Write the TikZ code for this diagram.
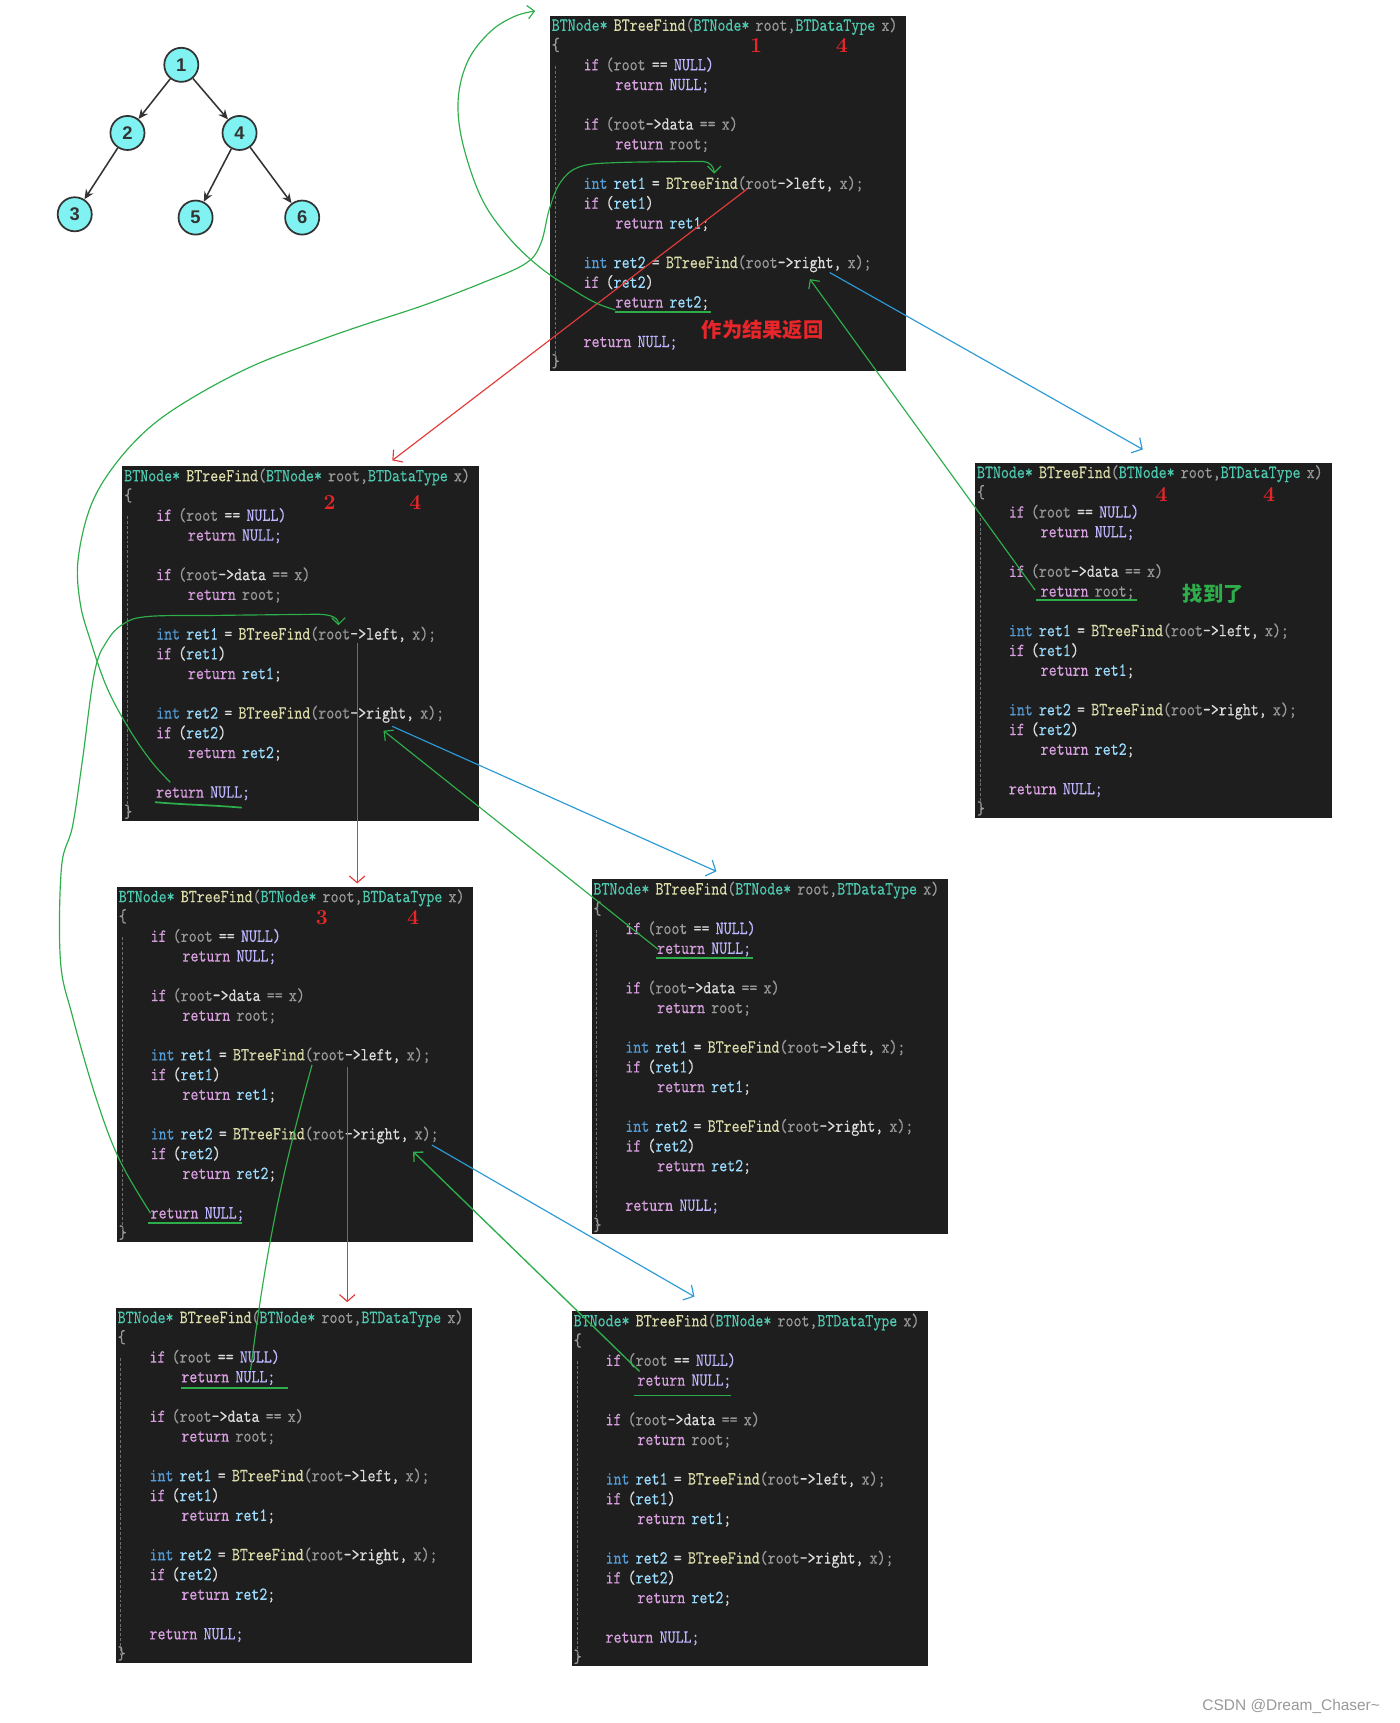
\documentclass[tikz,border=0pt]{standalone}
\usepackage{fontspec}
\setsansfont{Liberation Sans}
\newfontfamily\cjk{Noto Sans CJK SC}
\newfontfamily\codefam{lmmono10-regular.otf}[FakeStretch=0.82, FakeBold=0.2]
\usepackage{xcolor}
\usetikzlibrary{arrows.meta, calc, positioning}

\definecolor{codebg}{HTML}{1E1E1E}
\definecolor{typecol}{HTML}{4EC9B0}
\definecolor{funccol}{HTML}{DCDCAA}
\definecolor{paramcol}{HTML}{9A9A9A}
\definecolor{keycol}{HTML}{D8A0DF}
\definecolor{macrocol}{HTML}{BEB7FF}
\definecolor{intcol}{HTML}{569CD6}
\definecolor{varcol}{HTML}{9CDCFE}
\definecolor{plaincol}{HTML}{DCDCDC}
\definecolor{guidecol}{HTML}{6E6E6E}
\definecolor{numred}{HTML}{E8262A}
\definecolor{callred}{HTML}{E33B3B}
\definecolor{callblue}{HTML}{2C9AD6}
\definecolor{backgreen}{HTML}{2DAE4A}
\definecolor{treefill}{HTML}{80F2F2}
\definecolor{treeedge}{HTML}{333333}

\newcommand\ckw[1]{\textcolor{keycol}{#1}}
\newcommand\cty[1]{\textcolor{typecol}{#1}}
\newcommand\cfn[1]{\textcolor{funccol}{#1}}
\newcommand\cpa[1]{\textcolor{paramcol}{#1}}
\newcommand\cmc[1]{\textcolor{macrocol}{#1}}
\newcommand\cik[1]{\textcolor{intcol}{#1}}
\newcommand\cvr[1]{\textcolor{varcol}{#1}}
\newcommand\inda{\hspace*{16.5pt}}
\newcommand\indb{\hspace*{33pt}}

\newcommand\btcode{%
\cty{BTNode*} \cfn{BTreeFind}\cpa{(}\cty{BTNode*} \cpa{root,}\cty{BTDataType} \cpa{x)}\\
\cpa{\{}\\
\inda\ckw{if} \cpa{(root} == \cmc{NULL)}\\
\indb\ckw{return} \cmc{NULL;}\\
\mbox{}\\
\inda\ckw{if} \cpa{(root}->data \cpa{== x)}\\
\indb\ckw{return} \cpa{root;}\\
\mbox{}\\
\inda\cik{int} \cvr{ret1} = \cfn{BTreeFind}\cpa{(root}->left, \cpa{x);}\\
\inda\ckw{if} (\cvr{ret1})\\
\indb\ckw{return} \cvr{ret1};\\
\mbox{}\\
\inda\cik{int} \cvr{ret2} = \cfn{BTreeFind}\cpa{(root}->right, \cpa{x);}\\
\inda\ckw{if} (\cvr{ret2})\\
\indb\ckw{return} \cvr{ret2};\\
\mbox{}\\
\inda\ckw{return} \cmc{NULL;}\\
\cpa{\}}}

\begin{document}
\begin{tikzpicture}[
  x=0.02cm, y=-0.02cm,
  codeblk/.style = {anchor=north west, fill=codebg, inner xsep=1pt, inner ysep=0.5pt,
                    text width=6.42cm, minimum width=6.46cm, minimum height=6.46cm,
                    align=left, text=plaincol,
                    font=\codefam\fontsize{9.6}{10.24}\selectfont},
  guide/.style   = {draw=guidecol, line width=0.4pt, dash pattern=on 1.5pt off 1pt},
  tnode/.style   = {circle, draw=treeedge, line width=0.9pt, fill=treefill,
                    minimum size=0.62cm, inner sep=0pt,
                    font=\sffamily\bfseries\fontsize{9.5}{10}\selectfont, text=treeedge},
  tedge/.style   = {-{Stealth[length=5pt,width=4.5pt]}, line width=0.8pt, draw=treeedge},
  argnum/.style  = {text=numred, font=\rmfamily\bfseries\fontsize{11}{12}\selectfont},
  call/.style    = {draw=callred, line width=0.6pt, -{Straight Barb[length=3.5pt,width=8pt]}},
  jump/.style    = {draw=callblue, line width=0.6pt, -{Straight Barb[length=4pt,width=9pt]}},
  back/.style    = {draw=backgreen, line width=0.6pt, -{Straight Barb[length=3.5pt,width=7pt]}},
  underl/.style  = {draw=backgreen, line width=0.9pt}
]

\fill[white] (0,0) rectangle (1274,1568);
\useasboundingbox (0,0) rectangle (1274,1568);

\node[tnode] (n1) at (165,59) {1};
\node[tnode] (n2) at (116,121) {2};
\node[tnode] (n4) at (218,121) {4};
\node[tnode] (n3) at (68,195) {3};
\node[tnode] (n5) at (178,198) {5};
\node[tnode] (n6) at (275,198) {6};
\draw[tedge] (n1) -- (n2);
\draw[tedge] (n1) -- (n4);
\draw[tedge] (n2) -- (n3);
\draw[tedge] (n4) -- (n5);
\draw[tedge] (n4) -- (n6);

\foreach \nm/\px/\py in {b1/500/14, b2/111/424, b3/887/421, b4/106/807,
                         b5/538/800, b6/105/1190, b7/520/1193} {
  \node[codeblk] (\nm) at (\px,\py) {\btcode};
  \draw[guide] ($(\nm.north west)+(5,46)$) -- ($(\nm.north west)+(5,316)$);
}

\node[argnum] (b1a) at ($(b1.north west)+(188,27)$) {1};
\node[argnum] (b1x) at ($(b1.north west)+(266,27)$) {4};
\node[argnum] (b2a) at ($(b2.north west)+(189,33)$) {2};
\node[argnum] (b2x) at ($(b2.north west)+(267,33)$) {4};
\node[argnum] (b3a) at ($(b3.north west)+(170,29)$) {4};
\node[argnum] (b3x) at ($(b3.north west)+(268,29)$) {4};
\node[argnum] (b4a) at ($(b4.north west)+(187,28)$) {3};
\node[argnum] (b4x) at ($(b4.north west)+(270,28)$) {4};

\node[text=numred, font=\cjk\bfseries\fontsize{10.5}{12}\selectfont] (b1note)
  at ($(b1.north west)+(194,286)$) {作为结果返回};
\node[text=backgreen, font=\cjk\bfseries\fontsize{10.5}{12}\selectfont] (b3note)
  at ($(b3.north west)+(217,119)$) {找到了};

\node[anchor=east, text=black!40, font=\sffamily\fontsize{8}{9}\selectfont] (wm)
  at (1262,1553) {CSDN @Dream\_Chaser\textasciitilde};

\coordinate (b1left)  at ($(b1.north west)+(180,158)$);
\coordinate (b1right) at ($(b1.north west)+(255,234)$);
\coordinate (b1rback) at ($(b1.north west)+(237,240)$);
\coordinate (b1hook)  at ($(b1.north west)+(150,144)$);
\coordinate (b1ret)   at ($(b1.north west)+(60,268)$);
\coordinate (topend)  at (487,10);
\coordinate (b2in)    at ($(b2.north west)+(246,-5)$);
\coordinate (b2left)  at ($(b2.north west)+(214,161)$);
\coordinate (b2right) at ($(b2.north west)+(246,237)$);
\coordinate (b2rback) at ($(b2.north west)+(238,241)$);
\coordinate (b2hook)  at ($(b2.north west)+(197,145)$);
\coordinate (b2ret)   at ($(b2.north west)+(44,288)$);
\coordinate (b3in)    at ($(b3.north west)+(153,-12)$);
\coordinate (b3ret)   at ($(b3.north west)+(55,116)$);
\coordinate (b4in)    at ($(b4.north west)+(219,-3)$);
\coordinate (b4left)  at ($(b4.north west)+(210,164)$);
\coordinate (b4lback) at ($(b4.north west)+(178,162)$);
\coordinate (b4right) at ($(b4.north west)+(287,235)$);
\coordinate (b4rback) at ($(b4.north west)+(270,241)$);
\coordinate (b4ret)   at ($(b4.north west)+(31,297)$);
\coordinate (b5in)    at ($(b5.north west)+(114,-7)$);
\coordinate (b5ret)   at ($(b5.north west)+(61,64)$);
\coordinate (b6in)    at ($(b6.north west)+(211,-5)$);
\coordinate (b6ret)   at ($(b6.north west)+(123,57)$);
\coordinate (b7in)    at ($(b7.north west)+(112,-13)$);
\coordinate (b7ret)   at ($(b7.north west)+(62,55)$);

\draw[underl] ($(b1.north west)+(60,270)$) -- ($(b1.north west)+(147,270)$);
\draw[underl] ($(b2.north west)+(30,306)$) to[out=-5,in=175] ($(b2.north west)+(109,311)$);
\draw[underl] ($(b3.north west)+(56,125)$) -- ($(b3.north west)+(148,125)$);
\draw[underl] ($(b4.north west)+(29,306)$) -- ($(b4.north west)+(114,306)$);
\draw[underl] ($(b5.north west)+(59,72)$) -- ($(b5.north west)+(147,72)$);
\draw[underl] ($(b6.north west)+(60,73)$) -- ($(b6.north west)+(157,73)$);
\draw[underl] ($(b7.north west)+(57,77)$) -- ($(b7.north west)+(145,77)$);

\draw[call] (b1left) -- (b2in);
\draw[call] (b2left) -- (b4in);
\draw[call] (b4left) -- (b6in);

\draw[jump] (b1right) -- (b3in);
\draw[jump] (b2right) -- (b5in);
\draw[jump] (b4right) -- (b7in);

\draw[back] (b3ret) -- (b1rback);
\draw[back] (b5ret) -- (b2rback);
\draw[back, line width=0.7pt] (b7ret) -- (b4rback);
\draw[back, -] (b6ret) to[bend left=4] (b4lback);

\draw[back] plot[smooth, tension=0.6] coordinates {(b1ret) (543,276) (522,264) (491,243)
  (462,215) (438,180) (421,130) (417,90) (426,55) (446,29) (468,15) (topend)};

\draw[back] plot[smooth, tension=0.6] coordinates {(b2ret) (137,692) (116,661) (97,625)
  (82,582) (73,549) (71,510) (82,462) (103,425) (135,390) (175,362) (230,333) (290,310)
  (330,296) (385,278) (440,257) (478,240) (492,222) (500,190) (510,166) (527,152)
  (560,148) (640,147)} to[out=0,in=90] (b1hook);

\draw[back] plot[smooth, tension=0.6] coordinates {(b4ret) (109,1056) (88,1001) (66,925)
  (55,874) (56,789) (66,752) (75,692) (86,612) (97,584) (112,568) (135,561) (200,560)
  (288,559)} to[out=0,in=90] (b2hook);

\end{tikzpicture}
\end{document}
